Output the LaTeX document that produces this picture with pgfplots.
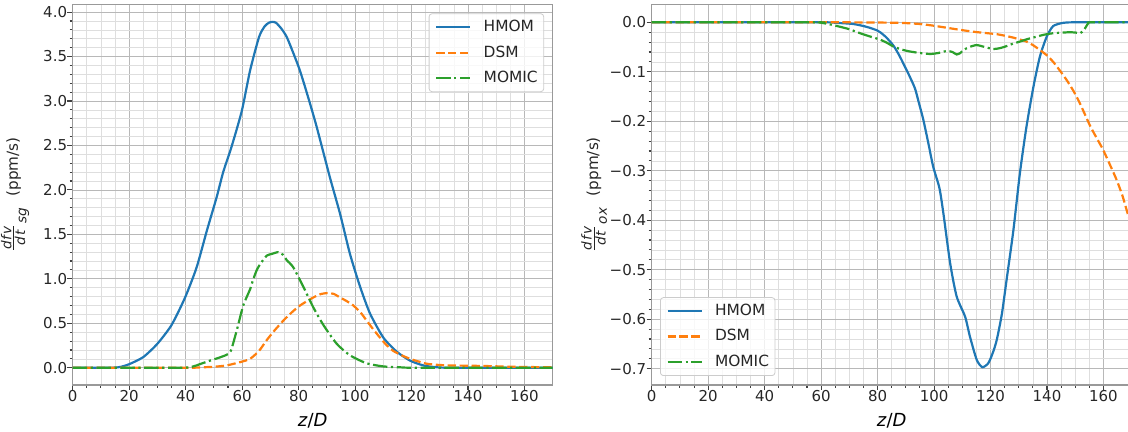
\documentclass[border=0pt]{standalone}
\usepackage{amsmath}
\usepackage{fontspec}
\setmainfont{DejaVu Sans}
\usepackage{pgfplots}
\pgfplotsset{compat=1.18}

\definecolor{tabBlue}{RGB}{31,119,180}
\definecolor{tabOrange}{RGB}{255,127,14}
\definecolor{tabGreen}{RGB}{44,160,44}

% small italic pieces of the y label
\newcommand{\fr}[1]{\text{\fontsize{6.8}{8}\selectfont\itshape #1}}
\newcommand{\ylab}[1]{\fontsize{7.6}{9}\selectfont
    $\frac{\fr{d\kern0.5pt f\kern0.6pt v}}{\fr{d\kern0.5pt t}}_{\fr{#1}}$\hspace{0.7em}(ppm/s)}

% shared look of both panels (1px of the reference = 0.5pt here)
\pgfplotsset{
    panel/.style={
        scale only axis,
        width=240pt,
        height=190.15pt,
        xmin=0, xmax=170,
        xtick={0,20,...,160},
        xticklabels={0,20,40,60,80,100,120,140,160},
        minor x tick num=3,
        grid=both,
        major grid style={black!28, line width=0.4pt},
        minor grid style={black!13, line width=0.35pt},
        axis line style={black!40, line width=0.6pt},
        tick align=outside,
        tick pos=left,
        major tick length=2.6pt,
        minor tick length=1.5pt,
        tick style={black!75, line width=0.55pt},
        tick label style={font=\fontsize{7.5}{9}\selectfont, text=black!85},
        yticklabel style={inner sep=0pt, anchor=east},
        xticklabel style={inner sep=0pt, anchor=north},
        xlabel={\fontsize{9}{11}\selectfont\textit{z}/\textit{D}},
        xlabel style={at={(axis description cs:0.5,-0.108)}, anchor=base},
        ylabel style={at={(axis description cs:-0.12,0.5)}, anchor=center,
            text=black!85},
        legend cell align=left,
        legend image code/.code={%
            \draw[#1] (0pt,0pt) -- (17pt,0pt);},
        legend style={
            font=\fontsize{7.7}{9}\selectfont,
            text=black!85,
            draw=black!20,
            rounded corners=1.5pt,
            fill=white,
            fill opacity=0.8,
            text opacity=1,
            inner xsep=3pt,
            inner ysep=3.4pt,
            row sep=5.9pt,
            column sep=6.2pt,
            nodes={inner sep=0pt, text height=5.6pt, text depth=1.2pt}
        },
    },
    hmom/.style={tabBlue, line width=1.1pt, smooth, tension=0.4},
    dsm/.style={tabOrange, line width=1.1pt, smooth, tension=0.4,
        dash pattern=on 4.16pt off 1.8pt},
    momic/.style={tabGreen, line width=1.1pt, smooth, tension=0.4,
        dash pattern=on 7.2pt off 1.8pt on 1.12pt off 1.8pt},
}

\begin{document}
\begin{tikzpicture}
\path[use as bounding box] (0,0) rectangle (564pt,216pt);
\clip (0,0) rectangle (564pt,216pt);

%------------------------------------------------
% left panel: soot growth
%------------------------------------------------
\begin{axis}[
    panel,
    at={(36.35pt,23.5pt)}, anchor=south west,
    ymin=-0.194, ymax=4.083,
    ytick={0,0.5,...,4.0},
    yticklabels={0.0,0.5,1.0,1.5,2.0,2.5,3.0,3.5,4.0},
    minor y tick num=4,
    ylabel={\ylab{sg}},
    legend style={at={(1,1)}, anchor=north east, xshift=-4.3pt, yshift=-4.3pt},
]
\addplot[hmom] coordinates {
 (0,0) (10,0) (15,0.002) (17,0.01) (20,0.04) (25,0.12) (30,0.27)
 (35,0.48) (39.8,0.79) (43.9,1.13) (47.5,1.54) (51,1.92) (53.3,2.2)
 (56.3,2.49) (59.9,2.89) (62.8,3.34) (66,3.72) (68,3.84) (69.5,3.88)
 (70.7,3.89) (72,3.88) (74,3.81) (75.8,3.72) (78,3.55) (80.5,3.34)
 (83.5,3.03) (86.4,2.71) (91.1,2.14) (94.7,1.73) (98.2,1.28) (101.8,0.91)
 (105.3,0.61) (110,0.34) (114.8,0.18) (119.5,0.08) (124.2,0.026)
 (129,0.005) (135,0) (170,0)
};
\addlegendentry{HMOM}
\addplot[dsm] coordinates {
 (0,0) (40,0) (45,0.004) (50,0.011) (54.5,0.026) (59.3,0.063) (62.8,0.10)
 (66,0.19) (68.7,0.31) (71.5,0.42) (74.6,0.53) (77.5,0.62) (80.5,0.70)
 (85.2,0.79) (88,0.83) (90.5,0.84) (92.5,0.83) (94.7,0.79) (97,0.75)
 (99.4,0.70) (102,0.62) (104.1,0.53) (106.5,0.43) (108.8,0.34) (111,0.26)
 (113.5,0.19) (116.5,0.14) (119.5,0.10) (122.5,0.07) (125.4,0.045)
 (129,0.033) (133.6,0.026) (145.4,0.02) (157,0.01) (170,0.005)
};
\addlegendentry{DSM}
\addplot[momic] coordinates {
 (0,0) (38,0) (42.7,0.015) (45,0.04) (48.6,0.08) (52,0.115) (54.5,0.146)
 (56,0.19) (58.1,0.42) (60.4,0.70) (62.8,0.88) (63.8,0.98) (65.2,1.10)
 (66.5,1.17) (68.7,1.26) (70.5,1.28) (72.8,1.30) (74.5,1.27) (75.8,1.21)
 (78.1,1.13) (81.7,0.91) (85.2,0.68) (88.8,0.48) (93.5,0.27) (98.2,0.14)
 (104.1,0.05) (110,0.015) (116,0.005) (122,0) (170,0)
};
\addlegendentry{MOMIC}
\end{axis}

%------------------------------------------------
% right panel: oxidation
%------------------------------------------------
\begin{axis}[
    panel,
    at={(325.85pt,23.5pt)}, anchor=south west,
    ymin=-0.733, ymax=0.0356,
    ytick={-0.7,-0.6,...,0.01},
    yticklabels={−0.7,−0.6,−0.5,−0.4,−0.3,−0.2,−0.1,0.0},
    minor y tick num=4,
    ylabel={\ylab{ox}},
    legend style={at={(0,0)}, anchor=south west, xshift=4.15pt, yshift=4.5pt},
]
\addplot[hmom] coordinates {
 (0,0) (60,0) (65,-0.001) (71.4,-0.0034) (76,-0.009) (79.7,-0.016)
 (80.9,-0.02) (83,-0.03) (85.6,-0.047) (87.5,-0.065) (89.1,-0.083)
 (91,-0.105) (93.2,-0.133) (94.5,-0.16) (96.2,-0.197) (98,-0.245)
 (99.7,-0.292) (101.9,-0.335) (103.3,-0.386) (105.7,-0.487) (108,-0.554)
 (111,-0.595) (112.7,-0.635) (115.1,-0.682) (117.1,-0.697) (119.2,-0.689)
 (120.8,-0.668) (122.2,-0.642) (124,-0.59) (125.7,-0.52) (128.1,-0.42)
 (130.4,-0.305) (132.7,-0.212) (135.2,-0.13) (137.5,-0.069) (139.9,-0.029)
 (142.2,-0.0075) (145.8,-0.001) (150,0) (170,0)
};
\addlegendentry{HMOM}
\addplot[dsm] coordinates {
 (0,0) (65,0) (80,-0.0005) (87.9,-0.001) (95,-0.0034) (100,-0.007)
 (104.5,-0.011) (109,-0.015) (113.9,-0.019) (118,-0.0215) (122.2,-0.024)
 (125,-0.027) (128.1,-0.031) (130.5,-0.035) (132.8,-0.039) (135,-0.046)
 (137.5,-0.056) (140,-0.067) (142.2,-0.080) (144.5,-0.097) (147,-0.117)
 (149.5,-0.14) (151.5,-0.162) (153.5,-0.187) (155.5,-0.212) (157.8,-0.236)
 (159.9,-0.258) (162.3,-0.288) (164.7,-0.319) (166.8,-0.352) (168.7,-0.389)
 (170,-0.41)
};
\addlegendentry{DSM}
\addplot[momic] coordinates {
 (0,0) (58,0) (60.2,-0.001) (63,-0.004) (66.7,-0.009) (70,-0.014)
 (73.8,-0.022) (77.5,-0.029) (80.9,-0.035) (83.5,-0.042) (85.6,-0.049)
 (88.5,-0.055) (91.5,-0.059) (95,-0.062) (98.6,-0.064) (101.5,-0.062)
 (104.5,-0.058) (106.5,-0.060) (108,-0.065) (109.3,-0.062) (110.4,-0.056)
 (112.5,-0.050) (115.1,-0.046) (118,-0.050) (121,-0.054) (123.5,-0.052)
 (125.7,-0.048) (128,-0.043) (130.4,-0.039) (133,-0.034) (136.3,-0.029)
 (139,-0.025) (142.2,-0.022) (145,-0.021) (148.2,-0.020) (150.5,-0.021)
 (151.7,-0.022) (152.9,-0.017) (153.8,-0.009) (154.6,-0.002) (155.5,0)
 (170,0)
};
\addlegendentry{MOMIC}
\end{axis}
\end{tikzpicture}
\end{document}
